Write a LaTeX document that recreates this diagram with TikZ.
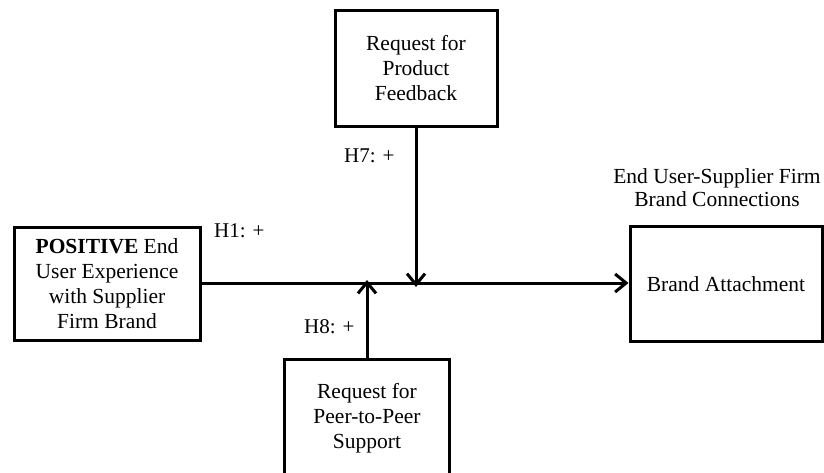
\documentclass[tikz,border=0pt]{standalone}
\usepackage{fontspec}
\setmainfont{Liberation Serif}
\usetikzlibrary{arrows.meta}
\begin{document}
\begin{tikzpicture}[x=1pt,y=-1pt,
  box/.style={draw,line width=3pt,align=center,inner sep=0pt,
    font=\fontsize{21.5}{25}\selectfont},
  link/.style={line width=3pt,-{Straight Barb[length=11pt,width=18pt,line width=3pt]}},
  lbl/.style={font=\fontsize{21}{25}\selectfont,inner sep=0pt}]
\useasboundingbox (0,0) rectangle (824,472);
% boxes
\node[box,minimum width=186pt,minimum height=113pt] (exp) at (107,283.5)
  {\textbf{POSITIVE} End\\User Experience\\with Supplier\\Firm Brand};
\node[box,minimum width=162pt,minimum height=116pt] (fb) at (416,68)
  {Request for\\Product\\Feedback};
\node[box,minimum width=165pt,minimum height=118pt] (peer) at (367,418)
  {Request for\\Peer-to-Peer\\Support};
\node[box,minimum width=192pt,minimum height=115pt] (ba) at (726,284)
  {Brand Attachment};
% heading above the outcome box
\node[lbl,align=center,font=\fontsize{21.5}{23}\selectfont] (head) at (717,188)
  {End User-Supplier Firm\\Brand Connections};
% paths
\coordinate (mid7) at (fb.south |- 0,283);
\coordinate (mid8) at (peer.north |- 0,283);
\draw[link] (exp.east |- 0,283) -- (ba.west |- 0,283);
\draw[link] (fb.south) -- ([yshift=-4pt]mid7);
\draw[link] (peer.north) -- ([yshift=3pt]mid8);
% hypothesis labels
\node[lbl,anchor=west] (h1) at (214,231) {H1: +};
\node[lbl,anchor=west] (h7) at (344,156) {H7: +};
\node[lbl,anchor=west] (h8) at (304,327) {H8: +};
\end{tikzpicture}
\end{document}
